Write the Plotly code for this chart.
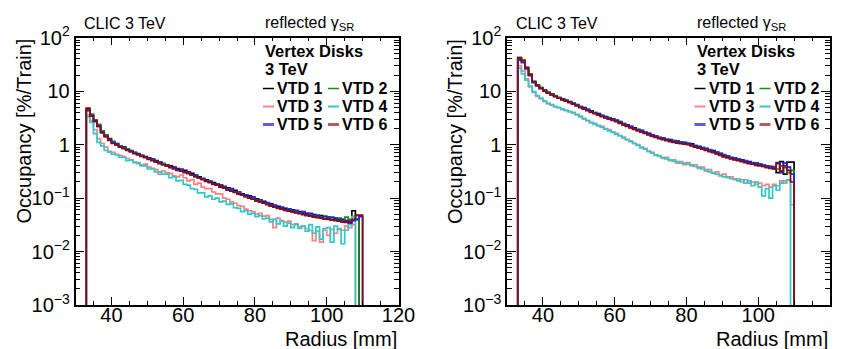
import plotly.graph_objects as go

# ---------------- data ----------------
BIN_START = 33      # mm, lower edge of first bin
BIN_WIDTH = 1       # mm
N_BINS = 77         # bins 33..110 mm

series_names = ["VTD 1", "VTD 2", "VTD 3", "VTD 4", "VTD 5", "VTD 6"]
series_colors = ["#000000", "#1a8c1a", "#ff8080", "#2ccaca", "#1f1fff", "#8b0a0a"]
legend_colors = ["#000000", "#1a8c1a", "#ff8f8f", "#44cccc", "#5a5aff", "#c05a5a"]
legend_widths = [1.5, 1.5, 2.2, 2.2, 3.0, 3.0]

# left panel (occupancy %/train), bins r = 33 ... 109 mm
left_vtd1 = [4.6, 3.7, 2.8, 2.3, 1.75, 1.5, 1.3, 1.1, 1.05, 0.95,
             0.90, 0.82, 0.76, 0.72, 0.66, 0.63, 0.58, 0.56, 0.52, 0.50,
             0.46, 0.44, 0.41, 0.40, 0.37, 0.355, 0.33, 0.33, 0.29, 0.29,
             0.26, 0.25, 0.225, 0.22, 0.20, 0.195, 0.175, 0.175, 0.155, 0.155,
             0.14, 0.14, 0.12, 0.12, 0.108, 0.11, 0.096, 0.097, 0.086, 0.087,
             0.077, 0.078, 0.069, 0.070, 0.063, 0.064, 0.058, 0.060, 0.054, 0.056,
             0.051, 0.052, 0.047, 0.049, 0.044, 0.047, 0.041, 0.044, 0.039, 0.042,
             0.037, 0.040, 0.036, 0.039, 0.058, 0.040, 0]
left_vtd2 = [4.7, 3.6, 2.9, 2.4, 1.8, 1.5, 1.25, 1.15, 1.0, 0.95,
             0.88, 0.83, 0.76, 0.70, 0.68, 0.62, 0.60, 0.55, 0.53, 0.48,
             0.47, 0.44, 0.40, 0.38, 0.38, 0.34, 0.33, 0.31, 0.31, 0.27,
             0.27, 0.24, 0.23, 0.21, 0.21, 0.185, 0.18, 0.165, 0.16, 0.145,
             0.145, 0.13, 0.13, 0.115, 0.115, 0.10, 0.10, 0.09, 0.092, 0.082,
             0.080, 0.073, 0.072, 0.066, 0.066, 0.060, 0.062, 0.056, 0.058, 0.052,
             0.054, 0.048, 0.050, 0.046, 0.048, 0.044, 0.046, 0.042, 0.044, 0.040,
             0.042, 0.038, 0.044, 0.040, 0.045, 0.047, 0]
left_vtd3 = [3.6, 2.8, 1.9, 1.3, 1.05, 0.9, 0.75, 0.72, 0.66, 0.62,
             0.60, 0.55, 0.52, 0.47, 0.44, 0.42, 0.43, 0.38, 0.36, 0.34,
             0.28, 0.32, 0.30, 0.29, 0.26, 0.25, 0.27, 0.24, 0.21, 0.22,
             0.18, 0.19, 0.16, 0.15, 0.15, 0.13, 0.12, 0.12, 0.10, 0.095,
             0.085, 0.08, 0.072, 0.07, 0.062, 0.058, 0.056, 0.05, 0.052, 0.046,
             0.047, 0.040, 0.028, 0.042, 0.038, 0.035, 0.037, 0.032, 0.033, 0.029,
             0.030, 0.027, 0.025, 0.016, 0.024, 0.015, 0.025, 0.020, 0.026, 0.022,
             0.027, 0.025, 0.030, 0.028, 0.032, 0, 0]
left_vtd4 = [3.3, 2.6, 1.6, 1.1, 0.95, 0.78, 0.72, 0.66, 0.64, 0.58,
             0.58, 0.50, 0.51, 0.46, 0.46, 0.40, 0.40, 0.35, 0.35, 0.31,
             0.31, 0.28, 0.28, 0.24, 0.25, 0.21, 0.215, 0.18, 0.175, 0.15,
             0.145, 0.125, 0.125, 0.105, 0.11, 0.095, 0.10, 0.085, 0.088, 0.076,
             0.078, 0.066, 0.064, 0.056, 0.058, 0.050, 0.052, 0.045, 0.047, 0.041,
             0.042, 0.036, 0.040, 0.033, 0.037, 0.030, 0.034, 0.028, 0.032, 0.027,
             0.030, 0.024, 0.032, 0.022, 0.029, 0.017, 0.027, 0.028, 0.015, 0.030,
             0.026, 0.014, 0.025, 0.032, 0.045, 0, 0]
left_vtd5 = [4.3, 3.5, 2.7, 2.2, 1.7, 1.45, 1.2, 1.1, 1.02, 0.92,
             0.88, 0.78, 0.77, 0.68, 0.67, 0.60, 0.60, 0.53, 0.54, 0.47,
             0.47, 0.42, 0.42, 0.37, 0.38, 0.33, 0.35, 0.31, 0.31, 0.27,
             0.27, 0.24, 0.235, 0.21, 0.205, 0.185, 0.185, 0.165, 0.165, 0.145,
             0.15, 0.13, 0.13, 0.115, 0.115, 0.10, 0.105, 0.09, 0.093, 0.082,
             0.082, 0.072, 0.074, 0.066, 0.068, 0.060, 0.063, 0.056, 0.059, 0.052,
             0.056, 0.049, 0.052, 0.045, 0.047, 0.043, 0.045, 0.041, 0.043, 0.039,
             0.040, 0.036, 0.038, 0.034, 0.038, 0.040, 0.045]
left_vtd6 = [4.8, 3.4, 2.8, 2.2, 1.65, 1.4, 1.25, 1.05, 0.98, 0.90,
             0.84, 0.79, 0.73, 0.69, 0.64, 0.61, 0.57, 0.54, 0.50, 0.48,
             0.44, 0.42, 0.40, 0.38, 0.35, 0.34, 0.32, 0.30, 0.29, 0.27,
             0.25, 0.235, 0.22, 0.205, 0.195, 0.18, 0.175, 0.16, 0.155, 0.14,
             0.135, 0.128, 0.12, 0.113, 0.106, 0.10, 0.095, 0.089, 0.085, 0.080,
             0.075, 0.071, 0.068, 0.064, 0.062, 0.059, 0.057, 0.055, 0.053, 0.051,
             0.049, 0.047, 0.046, 0.044, 0.043, 0.042, 0.041, 0.040, 0.039, 0.038,
             0.037, 0.036, 0.035, 0.036, 0.040, 0.048, 0.048]

# right panel
right_vtd1 = [41, 37, 28, 20, 15, 13, 11.5, 10.5, 9.5, 8.8,
              8.2, 7.5, 7.2, 6.6, 6.4, 5.8, 5.6, 5.0, 4.9, 4.4,
              4.3, 3.9, 3.8, 3.4, 3.35, 3.1, 3.05, 2.8, 2.7, 2.4,
              2.35, 2.1, 2.05, 1.85, 1.85, 1.65, 1.62, 1.45, 1.45, 1.32,
              1.33, 1.22, 1.24, 1.12, 1.16, 1.06, 1.1, 1.02, 1.03, 0.92,
              0.93, 0.84, 0.85, 0.76, 0.77, 0.68, 0.69, 0.60, 0.61, 0.55,
              0.56, 0.51, 0.52, 0.47, 0.48, 0.43, 0.45, 0.41, 0.41, 0.38,
              0.39, 0.36, 0.30, 0.48, 0.28, 0.47, 0.47]
right_vtd2 = [43, 36, 27, 21, 15.5, 13, 11.8, 10.3, 9.6, 8.6,
              8.3, 7.6, 7.0, 6.8, 6.2, 6.0, 5.4, 5.2, 4.7, 4.6,
              4.1, 4.0, 3.6, 3.55, 3.2, 3.2, 2.95, 2.9, 2.6, 2.5,
              2.25, 2.2, 1.95, 1.92, 1.75, 1.72, 1.56, 1.52, 1.38, 1.37,
              1.27, 1.27, 1.17, 1.2, 1.1, 1.13, 1.05, 1.07, 0.97, 0.97,
              0.88, 0.89, 0.79, 0.81, 0.72, 0.73, 0.64, 0.65, 0.57, 0.58,
              0.53, 0.54, 0.49, 0.50, 0.45, 0.46, 0.42, 0.43, 0.39, 0.40,
              0.37, 0.39, 0.35, 0.40, 0.37, 0.30, 0.33]
right_vtd3 = [30, 24, 17, 12, 9.5, 8.0, 7.2, 6.4, 5.8, 5.5,
              5.1, 4.9, 4.5, 4.4, 4.1, 4.0, 3.6, 3.4, 3.0, 2.8,
              2.55, 2.5, 2.25, 2.2, 1.95, 1.9, 1.7, 1.62, 1.45, 1.38,
              1.22, 1.18, 1.04, 1.0, 0.87, 0.85, 0.74, 0.72, 0.63, 0.62,
              0.55, 0.58, 0.50, 0.52, 0.45, 0.48, 0.42, 0.46, 0.40, 0.42,
              0.36, 0.38, 0.32, 0.34, 0.29, 0.31, 0.26, 0.28, 0.24, 0.25,
              0.22, 0.23, 0.20, 0.22, 0.19, 0.20, 0.18, 0.19, 0.17, 0.18,
              0.16, 0.18, 0.17, 0.21, 0.19, 0.22, 0.075]
right_vtd4 = [27, 21, 16, 12.5, 9.8, 8.3, 7.4, 6.6, 6.0, 5.6,
              5.2, 4.9, 4.6, 4.3, 4.2, 3.9, 3.7, 3.3, 3.1, 2.8,
              2.6, 2.4, 2.3, 2.1, 2.0, 1.8, 1.72, 1.56, 1.48, 1.34,
              1.26, 1.14, 1.06, 0.97, 0.9, 0.82, 0.76, 0.69, 0.65, 0.6,
              0.57, 0.54, 0.52, 0.49, 0.48, 0.45, 0.45, 0.43, 0.42, 0.39,
              0.38, 0.35, 0.34, 0.31, 0.30, 0.28, 0.27, 0.25, 0.25, 0.23,
              0.23, 0.21, 0.22, 0.19, 0.21, 0.17, 0.20, 0.16, 0.11, 0.15,
              0.10, 0.17, 0.14, 0.19, 0.21, 0.22, 0]
right_vtd5 = [38, 34, 26, 19.5, 14.5, 12.5, 11.2, 10.2, 9.2, 8.7,
              8.0, 7.6, 7.0, 6.7, 6.3, 5.9, 5.5, 5.1, 4.8, 4.5,
              4.2, 3.9, 3.7, 3.45, 3.3, 3.1, 3.0, 2.8, 2.6, 2.45,
              2.3, 2.2, 2.0, 1.9, 1.8, 1.7, 1.6, 1.5, 1.42, 1.36,
              1.31, 1.24, 1.2, 1.15, 1.12, 1.1, 1.07, 1.04, 1.0, 0.95,
              0.91, 0.86, 0.83, 0.78, 0.75, 0.71, 0.67, 0.63, 0.60, 0.57,
              0.55, 0.53, 0.51, 0.49, 0.47, 0.45, 0.44, 0.43, 0.41, 0.40,
              0.39, 0.37, 0.46, 0.30, 0.45, 0.38, 0.28]
right_vtd6 = [42, 38, 27, 20, 15, 12.8, 11.3, 10.0, 9.2, 8.5,
              7.9, 7.4, 6.9, 6.5, 6.1, 5.7, 5.3, 4.9, 4.6, 4.3,
              4.0, 3.8, 3.55, 3.35, 3.15, 3.0, 2.85, 2.7, 2.5, 2.35,
              2.2, 2.05, 1.92, 1.82, 1.72, 1.62, 1.52, 1.43, 1.36, 1.29,
              1.24, 1.19, 1.14, 1.1, 1.07, 1.04, 1.02, 1.0, 0.95, 0.9,
              0.86, 0.82, 0.78, 0.74, 0.71, 0.67, 0.63, 0.59, 0.57, 0.54,
              0.52, 0.50, 0.48, 0.46, 0.44, 0.43, 0.41, 0.40, 0.39, 0.37,
              0.36, 0.35, 0.44, 0.32, 0.40, 0.33, 0.20]

left_series = [left_vtd1, left_vtd2, left_vtd3, left_vtd4, left_vtd5, left_vtd6]
right_series = [right_vtd1, right_vtd2, right_vtd3, right_vtd4, right_vtd5, right_vtd6]

x_tick_vals = [40, 60, 80, 100, 120]
x_minor_vals = [35, 45, 50, 55, 65, 70, 75, 85, 90, 95, 105, 110, 115]
y_tick_vals = [1e-3, 1e-2, 1e-1, 1, 10, 100]
y_tick_text = ["10<sup>−3</sup>", "10<sup>−2</sup>", "10<sup>−1</sup>", "1", "10", "10<sup>2</sup>"]
y_minor_vals = [m * 10.0 ** d for d in range(-3, 2) for m in range(2, 10)]
X_RANGE = [30, 120]

for s in left_series + right_series:
    assert len(s) == N_BINS

# ---------------- figure ----------------
W, H = 844, 349
FONT = "Liberation Sans, Arial, Helvetica, sans-serif"
FLOOR = 1e-6   # empty bins drawn below the axis floor

def px(xp):
    return xp / W

def py(yp):
    return 1 - yp / H

edges = [BIN_START + i * BIN_WIDTH for i in range(N_BINS + 1)]

fig = go.Figure()

panels = [
    dict(series=left_series, xa="x", ya="y", x0=75.5, x1=398.5, dx=0.0),
    dict(series=right_series, xa="x2", ya="y2", x0=507.0, x1=830.0, dx=431.5),
]

for p in panels:
    for i, vals in enumerate(p["series"]):
        xs = [X_RANGE[0]] + edges + [X_RANGE[1]]
        ys = [FLOOR] + [v if v > 0 else FLOOR for v in vals] + [FLOOR, FLOOR]
        fig.add_trace(go.Scatter(
            x=xs, y=ys, mode="lines", line=dict(color=series_colors[i], width=1.7, shape="hv"),
            xaxis=p["xa"], yaxis=p["ya"], showlegend=False, hoverinfo="skip"))

top_px, bot_px = 37.7, 305.0
axis_line = dict(showline=True, linecolor="black", linewidth=1.5, mirror="allticks",
                 showgrid=False, zeroline=False, ticks="inside", tickcolor="black",
                 automargin=False)

layout = dict(width=W, height=H, autosize=False, margin=dict(l=0, r=0, t=0, b=0, pad=0),
              paper_bgcolor="white", plot_bgcolor="white", showlegend=False,
              font=dict(family=FONT, color="black"))

for k, p in enumerate(panels):
    sfx = "" if k == 0 else "2"
    layout["xaxis" + sfx] = dict(
        domain=[px(p["x0"]), px(p["x1"])], range=X_RANGE, anchor="y" + sfx,
        tickvals=x_tick_vals, ticklen=8, tickwidth=1.2, tickfont=dict(size=20, family=FONT),
        ticklabelstandoff=-9,
        minor=dict(tickvals=x_minor_vals, ticklen=4, tickwidth=1.2, ticks="inside", tickcolor="black"),
        **axis_line)
    layout["yaxis" + sfx] = dict(
        domain=[py(bot_px), py(top_px)], type="log", range=[-3, 2], anchor="x" + sfx,
        tickvals=y_tick_vals, ticktext=y_tick_text, ticklen=9, tickwidth=1.2,
        tickfont=dict(size=20, family=FONT),
        minor=dict(tickvals=y_minor_vals, ticklen=5, tickwidth=1.0, ticks="inside", tickcolor="black"),
        **axis_line)

fig.update_layout(**layout)

annotations = []
shapes = []
for k, p in enumerate(panels):
    dx = p["dx"]
    # axis titles
    annotations.append(dict(text="Radius [mm]", x=px(p["x1"]), y=py(339), xref="paper", yref="paper",
                            xanchor="right", yanchor="middle", showarrow=False,
                            font=dict(size=20, family=FONT)))
    annotations.append(dict(text="Occupancy [%/Train]", x=px(23 + dx), y=py(37), xref="paper", yref="paper",
                            xanchor="center", yanchor="top", textangle=-90, showarrow=False,
                            font=dict(size=20, family=FONT)))
    annotations.append(dict(text="CLIC 3 TeV", x=px(82 + dx), y=py(24), xref="paper", yref="paper",
                            xanchor="left", yanchor="middle", showarrow=False,
                            font=dict(size=16, family=FONT)))
    annotations.append(dict(text="reflected γ<sub>SR</sub>", x=px(356 + dx), y=py(24), xref="paper", yref="paper",
                            xanchor="right", yanchor="middle", showarrow=False,
                            font=dict(size=16, family=FONT)))
    annotations.append(dict(text="<b>Vertex Disks</b>", x=px(263 + dx), y=py(51), xref="paper", yref="paper",
                            xanchor="left", yanchor="middle", showarrow=False,
                            font=dict(size=16.5, family=FONT)))
    annotations.append(dict(text="<b>3 TeV</b>", x=px(263 + dx), y=py(69), xref="paper", yref="paper",
                            xanchor="left", yanchor="middle", showarrow=False,
                            font=dict(size=16.5, family=FONT)))
    rows_y = [88.5, 106.5, 124.5]
    for i, name in enumerate(series_names):
        row, col = i // 2, i % 2
        yy = rows_y[row]
        lx0 = (263 if col == 0 else 328) + dx
        tx = (275 if col == 0 else 340) + dx
        shapes.append(dict(type="line", xref="paper", yref="paper",
                           x0=px(lx0), x1=px(lx0 + 11), y0=py(yy), y1=py(yy),
                           line=dict(color=legend_colors[i], width=legend_widths[i])))
        annotations.append(dict(text="<b>" + name + "</b>", x=px(tx), y=py(yy), xref="paper", yref="paper",
                                xanchor="left", yanchor="middle", showarrow=False,
                                font=dict(size=16, family=FONT)))

fig.update_layout(annotations=annotations, shapes=shapes)
fig.write_html("out.html")
